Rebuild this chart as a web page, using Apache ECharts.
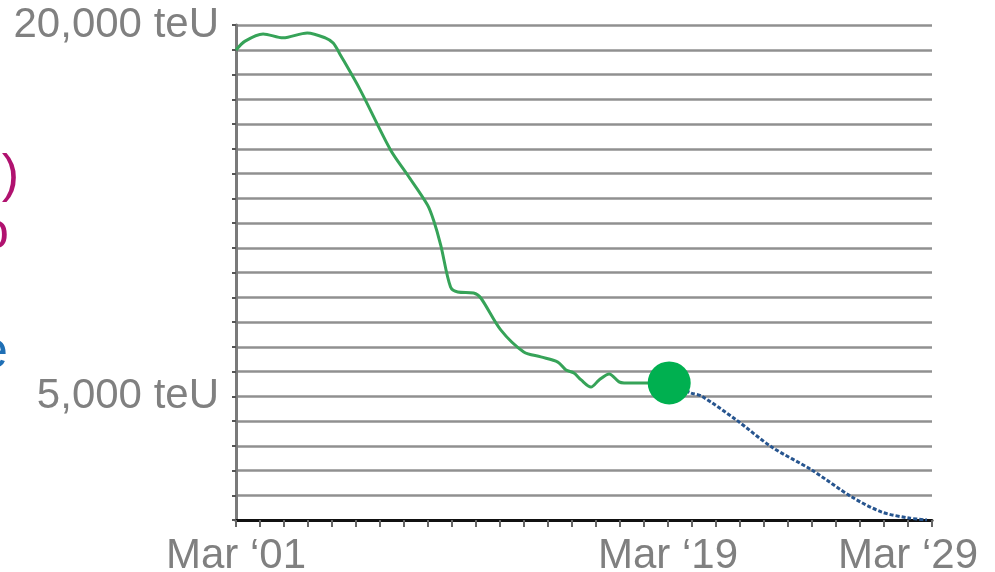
<!DOCTYPE html>
<html>
<head>
<meta charset="utf-8">
<script src="https://cdn.jsdelivr.net/npm/echarts@6/dist/echarts.min.js"></script>
<style>
html,body{margin:0;padding:0;background:#fff;}
#chart{width:995px;height:572px;}
</style>
</head>
<body>
<div id="chart"></div>
<script>
// Historical (green) series: [year, teU]
const histYears = [2001.00, 2001.38, 2002.13, 2002.96, 2003.97, 2004.72, 2005.05, 2005.35, 2006.18, 2007.44, 2008.15, 2008.98, 2009.23, 2009.53, 2009.94, 2010.24, 2010.90, 2011.20, 2012.03, 2012.99, 2013.70, 2014.41, 2014.75, 2015.08, 2015.38, 2015.79, 2016.13, 2016.55, 2016.96, 2017.17, 2018.18, 2019.05];
const histValues = [18990, 19350, 19640, 19480, 19680, 19480, 19270, 18790, 17370, 14950, 13940, 12730, 12120, 11110, 9410, 9210, 9170, 8970, 7680, 6790, 6590, 6380, 6060, 5940, 5660, 5370, 5660, 5900, 5580, 5540, 5540, 5540];
// Projected (blue dotted) series
const projYears = [2019.05, 2019.97, 2020.39, 2021.85, 2023.32, 2024.99, 2026.66, 2027.91, 2029.04, 2029.79];
const projValues = [5540, 5130, 5010, 4040, 2950, 2020, 930, 320, 80, 0];
// Current point marker
const markerYear = [2019.05];
const markerValue = [5540];
// Tick labels
const xLabels = {2001: 'Mar \u201801', 2019: 'Mar \u201819', 2029: 'Mar \u201829'};
const yLabels = {20000: '20,000 teU', 5000: '5,000 teU'};

const zip = (a, b) => a.map((v, i) => [v, b[i]]);
const FONT = '"Liberation Sans", Arial, sans-serif';

const chart = echarts.init(document.getElementById('chart'), null, {renderer: 'canvas'});
chart.setOption({
  animation: false,
  grid: {left: 236, right: 63, top: 25, bottom: 52, containLabel: false, outerBoundsMode: 'none'},
  xAxis: {
    type: 'value', min: 2001, max: 2030, interval: 1,
    axisLine: {show: true, lineStyle: {color: '#111', width: 3}},
    axisTick: {show: true, length: 7, lineStyle: {color: '#666', width: 2}},
    splitLine: {show: false},
    axisLabel: {
      show: true, margin: 15, color: '#808080', fontSize: 42, fontFamily: FONT,
      showMinLabel: true, showMaxLabel: true,
      formatter: v => xLabels[Math.round(v)] || ''
    }
  },
  yAxis: {
    type: 'value', min: 0, max: 20000, interval: 1000,
    axisLine: {show: true, lineStyle: {color: '#7a7a7a', width: 3}},
    axisTick: {show: true, length: 4, lineStyle: {color: '#555', width: 2}},
    splitLine: {show: true, lineStyle: {color: '#909090', width: 2.5}},
    axisLabel: {
      show: true, margin: 17, color: '#808080', fontSize: 42, fontFamily: FONT,
      padding: [6, 0, 0, 0],
      showMinLabel: true, showMaxLabel: true,
      formatter: v => yLabels[Math.round(v)] || ''
    }
  },
  series: [
    {
      type: 'line', data: zip(projYears, projValues), smooth: 0.3, symbol: 'none',
      lineStyle: {color: '#27558f', width: 3, type: [4, 2]}, z: 3
    },
    {
      type: 'line', data: zip(histYears, histValues), smooth: 0.3, symbol: 'none',
      lineStyle: {color: '#36a358', width: 3}, z: 4
    },
    {
      type: 'scatter', data: zip(markerYear, markerValue), symbol: 'circle', symbolSize: 43,
      itemStyle: {color: '#00b050', opacity: 1}, z: 5
    }
  ],
  graphic: [
    {type: 'text', x: 19, y: 177, style: {text: '(2019)', fill: '#b0126f', font: '52px ' + FONT, textAlign: 'right', textVerticalAlign: 'middle'}},
    {type: 'text', x: 9, y: 234, style: {text: 'to', fill: '#b0126f', font: '52px ' + FONT, textAlign: 'right', textVerticalAlign: 'middle'}},
    {type: 'text', x: 8, y: 353, style: {text: 'e', fill: '#1f6fb5', font: '52px ' + FONT, textAlign: 'right', textVerticalAlign: 'middle'}}
  ]
});
</script>
</body>
</html>
